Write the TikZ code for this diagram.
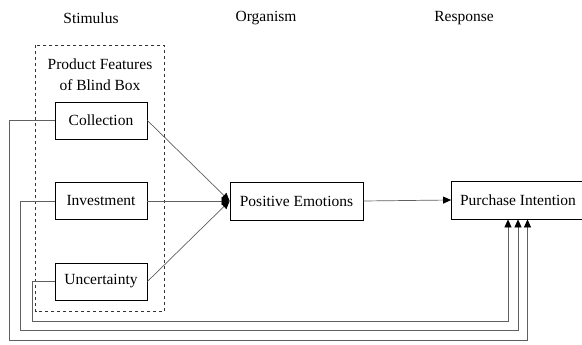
\documentclass[tikz,border=0pt]{standalone}
\usepackage{fontspec}
\setmainfont{Liberation Serif}
\usetikzlibrary{positioning, arrows.meta}

\begin{document}
\begin{tikzpicture}[x=1pt, y=-1pt, >={Triangle[length=8pt,width=7pt,color=black]},
    every node/.style={font=\fontsize{15.5}{21}\selectfont},
    factor/.style={draw, line width=0.8pt, minimum width=92pt, minimum height=37pt, inner sep=0pt},
    stage/.style={draw, line width=0.8pt, minimum width=133pt, minimum height=38pt, inner sep=0pt},
    link/.style={draw=gray!75!black, line width=0.7pt}]
    \useasboundingbox (0,0) rectangle (582,345);

    % column titles
    \node (stim) at (91,18) {Stimulus};
    \node (org) at (266,18) {Organism};
    \node (resp) at (464,18) {Response};

    % stimulus group
    \draw[dashed, line width=0.7pt, gray!40!black] (35.7,45) rectangle (164.3,311.7);
    \node[align=center] (group) at (100,74.5) {Product Features\\of Blind Box};
    \node[factor] (col) at (101,120.5) {Collection};
    \node[factor] (inv) at (101,201) {Investment};
    \node[factor] (unc) at (101,281.5) {Uncertainty};

    \node[stage] (pe) at (296.5,201) {Positive Emotions};
    \node[stage] (pi) at (518,200) {Purchase Intention};

    \draw[link, ->] (col.east) -- (pe.west);
    \draw[link, ->] (inv.east) -- (pe.west);
    \draw[link, ->] (unc.east) -- (pe.west);
    \draw[link, ->] (pe.east) -- (pi.west);

    % direct paths
    \draw[link, ->] (col.west) -| (9.3,340) -| ([xshift=9.5pt]pi.south);
    \draw[link, ->] (inv.west) -| (20.7,330.5) -| (pi.south);
    \draw[link, ->] (unc.west) -| (32.3,321) -| ([xshift=-10pt]pi.south);
\end{tikzpicture}
\end{document}
